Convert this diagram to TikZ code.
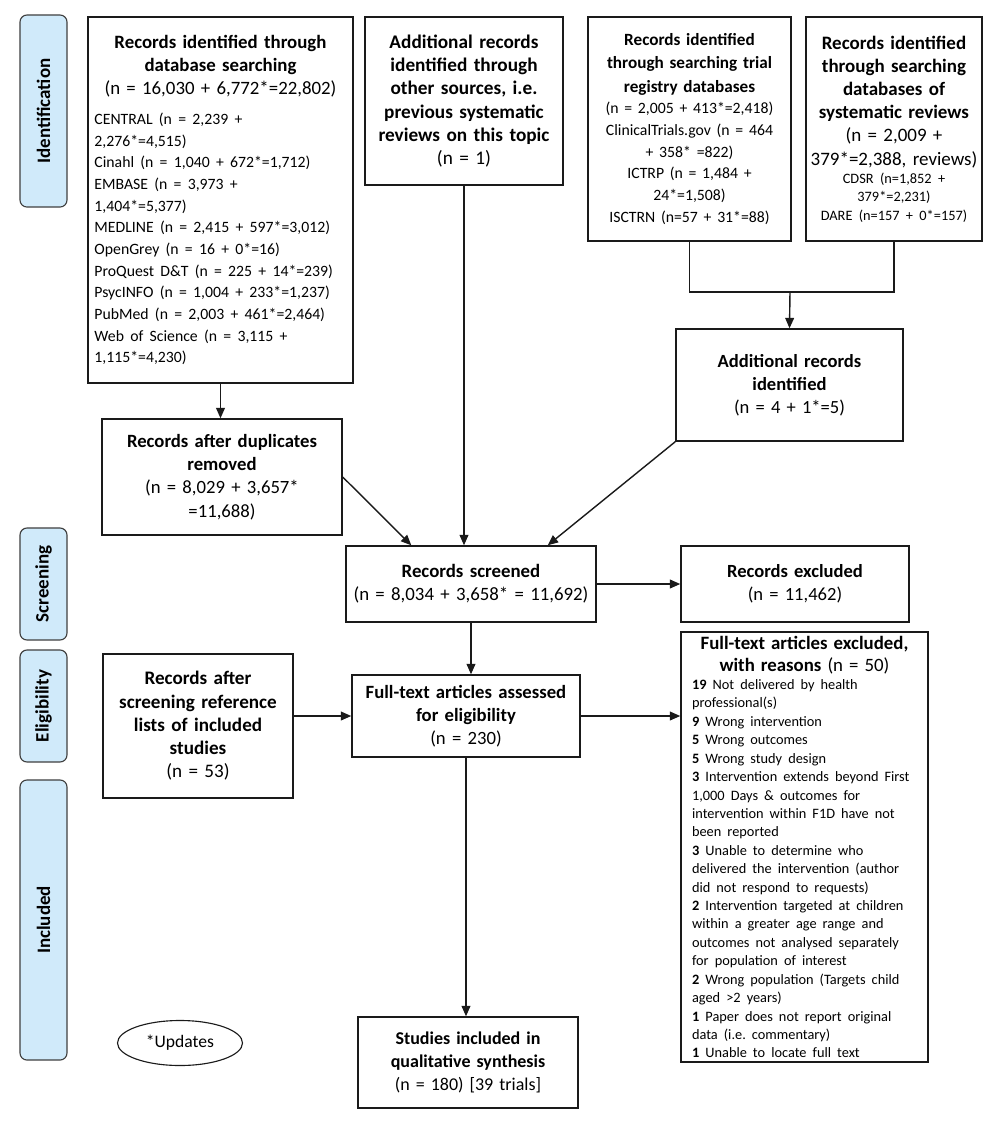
\documentclass[tikz,border=0pt]{standalone}
\usepackage{fontspec}
\setmainfont{Carlito}
\usetikzlibrary{arrows.meta, positioning, shapes.geometric}
\definecolor{stagebg}{HTML}{D0EAFA}
\definecolor{boxline}{HTML}{1A1A1A}
\newcommand{\fs}[1]{\fontsize{#1}{16.5}\selectfont}
\newcommand{\fsmall}{\fontsize{11.2}{15.4}\selectfont}
\newcommand{\ftiny}{\fontsize{10.2}{13.1}\selectfont}
\tikzset{
  % riquadro del diagramma
  box/.style={draw=boxline, line width=1pt, fill=white, align=center,
    inner xsep=0pt, inner ysep=2pt, font=\fs{12.9}},
  % dimensioni del riquadro (larghezza, altezza)
  boxsize/.style 2 args={minimum width=#1, text width=#1, minimum height=#2},
  % etichetta di fase (colonna a sinistra)
  stage/.style={draw=black!75, fill=stagebg, rounded corners=5pt, line width=0.8pt,
    rotate=90, minimum height=1.175cm, font=\fontsize{13.5}{15}\selectfont\bfseries},
  % freccia di flusso
  flow/.style={-{Triangle[length=2.6mm,width=2.2mm]}, line width=1pt, boxline},
  % linea senza punta
  link/.style={line width=1pt, boxline},
  % nota ellittica
  note/.style={ellipse, draw=boxline, line width=0.8pt, font=\fs{12.5}},
}

\begin{document}
\begin{tikzpicture}[x=0.025cm, y=-0.025cm]
  \useasboundingbox (0,0) rectangle (1000,1121);
  \foreach \nm/\y/\len/\txt in {id/111/4.8/Identification, scr/584/2.8/Screening,
    elig/706/2.8/Eligibility, inc/920/7.0/Included}
    \node[stage, minimum width=\len cm] (st\nm) at (43.5,\y) {\txt};

  \node[box, minimum width=6.625cm, text width=6.3cm, minimum height=9.15cm, align=left, font=\fs{13.4}] (db) at (220.5,200)
    {{\centering\textbf{Records identified through\\database searching}\\(n = 16,030 + 6,772*=22,802)\par}
     \vspace{6pt}
     {\fsmall CENTRAL (n = 2,239 +\\2,276*=4,515)\\Cinahl (n = 1,040 + 672*=1,712)\\EMBASE (n = 3,973 +\\1,404*=5,377)\\
     MEDLINE (n = 2,415 + 597*=3,012)\\OpenGrey (n = 16 + 0*=16)\\ProQuest D\&T (n = 225 + 14*=239)\\
     PsycINFO (n = 1,004 + 233*=1,237)\\PubMed (n = 2,003 + 461*=2,464)\\Web of Science (n = 3,115 +\\1,115*=4,230)\par}};
  \node[box, boxsize={4.95cm}{4.2cm}, font=\fs{13.7}] (other) at (464,101)
    {\textbf{Additional records\\identified through\\other sources, i.e.\\previous systematic\\reviews on this topic}\\(n = 1)};
  \node[box, boxsize={5.075cm}{5.6cm}, font=\fs{12.2}] (trial) at (689.5,129)
    {\textbf{Records identified\\through searching trial\\registry databases}\\
     {\fsmall(n = 2,005 + 413*=2,418)\\ClinicalTrials.gov (n = 464\\+ 358* =822)\\ICTRP (n = 1,484 +\\24*=1,508)\\ISCTRN (n=57 + 31*=88)\par}};
  \node[box, boxsize={4.4cm}{5.6cm}, font=\fs{13.5}] (sysrev) at (894,129)
    {\textbf{Records identified\\through searching\\databases of\\systematic reviews}\\(n = 2,009 +\\379*=2,388, reviews)\\
     {\ftiny CDSR (n=1,852 +\\379*=2,231)\\DARE (n=157 + 0*=157)\par}};
  \coordinate (join) at (790,292);
  \node[box, boxsize={5.675cm}{2.8cm}, font=\fs{13.2}] (addl) at (789.5,385)
    {\textbf{Additional records\\identified}\\(n = 4 + 1*=5)};
  \node[box, boxsize={6cm}{2.9cm}, font=\fs{13.3}] (dup) at (222,477)
    {\textbf{Records after duplicates\\removed}\\(n = 8,029 + 3,657*\\=11,688)};
  \node[box, boxsize={6.25cm}{1.9cm}, font=\fs{13.4}] (screened) at (471,584)
    {\textbf{Records screened}\\(n = 8,034 + 3,658* = 11,692)};
  \node[box, boxsize={5.7cm}{1.9cm}, font=\fs{13.2}] (excl) at (795,584)
    {\textbf{Records excluded}\\(n = 11,462)};
  \node[box, boxsize={4.75cm}{3.6cm}, font=\fs{13.6}] (reflist) at (198,726)
    {\textbf{Records after\\screening reference\\lists of included\\studies}\\(n = 53)};
  \node[box, boxsize={5.7cm}{2.05cm}, font=\fs{13.3}] (fulltext) at (466,716)
    {\textbf{Full-text articles assessed\\for eligibility}\\(n = 230)};
  \node[box, minimum width=6.175cm, text width=5.62cm, minimum height=10.75cm, align=left] (ftexcl) at (804.5,847)
    {{\centering\fontsize{13.4}{15.5}\selectfont\textbf{Full-text articles excluded,\\with reasons} (n = 50)\par}
     {\ftiny
     \textbf{19} Not delivered by health\\professional(s)\\
     \textbf{9} Wrong intervention\\
     \textbf{5} Wrong outcomes\\
     \textbf{5} Wrong study design\\
     \textbf{3} Intervention extends beyond First\\1,000 Days \& outcomes for\\intervention within F1D have not\\been reported\\
     \textbf{3} Unable to determine who\\delivered the intervention (author\\did not respond to requests)\\
     \textbf{2} Intervention targeted at children\\within a greater age range and\\outcomes not analysed separately\\for population of interest\\
     \textbf{2} Wrong population (Targets child\\aged >2 years)\\
     \textbf{1} Paper does not report original\\data (i.e.\ commentary)\\
     \textbf{1} Unable to locate full text\par}};
  \node[box, boxsize={5.5cm}{2.275cm}, font=\fs{12.8}] (incl) at (468,1062.5)
    {\textbf{Studies included in\\qualitative synthesis}\\(n = 180) [39 trials]};
  \node[note, minimum width=3.125cm, minimum height=1.125cm] (upd) at (180,1043) {*Updates};

  \draw[flow] (db.south) -- (db.south |- dup.north);
  \draw[link] (trial.south) |- (join) -| (sysrev.south);
  \draw[flow] (join) -- (addl.north);
  \draw[flow] (dup.east) -- ([xshift=1.65cm]screened.north west);
  \draw[flow] (other.south) -- (other.south |- screened.north);
  \draw[flow] (addl.south west) -- ([xshift=-1.225cm]screened.north east);
  \draw[flow] (screened.east) -- (excl.west);
  \draw[flow] (screened.south) -- (screened.south |- fulltext.north);
  \draw[flow] (fulltext.west -| reflist.east) -- (fulltext.west);
  \draw[flow] (fulltext.east) -- (fulltext.east -| ftexcl.west);
  \draw[flow] (fulltext.south) -- (fulltext.south |- incl.north);
\end{tikzpicture}
\end{document}
